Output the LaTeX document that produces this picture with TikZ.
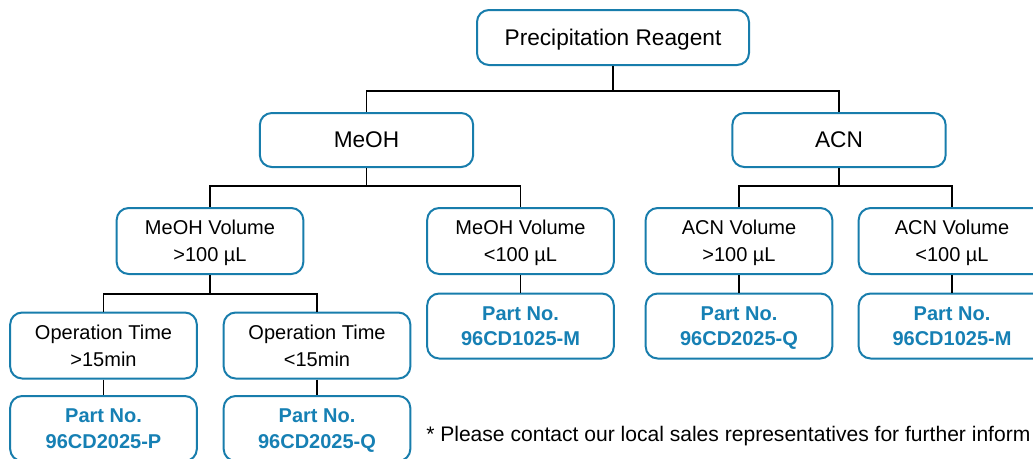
\documentclass[tikz,border=0pt]{standalone}
\usepackage{fontspec}
\setmainfont{Liberation Sans}
\usetikzlibrary{positioning}
\definecolor{boxblue}{RGB}{24,125,172}
\definecolor{partblue}{RGB}{22,128,180}

\begin{document}
\begin{tikzpicture}[x=0.75pt,y=0.75pt,node distance=63.75pt,on grid,
				box/.style={rectangle, rounded corners=9pt, draw=boxblue, line width=1.5pt, fill=white, align=center, inner sep=0pt, text depth=0pt},
				choice/.style={box, font=\fontsize{15}{20}\selectfont, minimum width=140pt, minimum height=49.5pt},
				part/.style={box, text=partblue, font=\fontsize{15}{19}\selectfont\bfseries, minimum width=140pt, minimum height=48.75pt},
				link/.style={draw=black, line width=1.1pt}
			]
			\useasboundingbox (0,0) rectangle (1033,-458);
			\clip (0,0) rectangle (1033,-458);
			
			\node[box, font=\fontsize{17}{20}\selectfont, minimum width=204pt, minimum height=41.25pt] (root) at (613,-37.5) {Precipitation Reagent};
			
			\node[box, font=\fontsize{17}{20}\selectfont, minimum width=160pt, minimum height=40.5pt] (meoh) at (366.5,-140) {MeOH};
			\node[box, font=\fontsize{17}{20}\selectfont, minimum width=160pt, minimum height=40.5pt] (acn) at (839,-140) {ACN};
			
			\node[choice] (mv_hi) at (210,-241) {MeOH Volume\\>100 µL};
			\node[choice] (mv_lo) at (520.5,-241) {MeOH Volume\\<100 µL};
			\node[choice] (av_hi) at (739,-241) {ACN Volume\\>100 µL};
			\node[choice] (av_lo) at (952,-241) {ACN Volume\\<100 µL};
			
			\node[choice] (ot_hi) at (103.5,-345.5) {Operation Time\\>15min};
			\node[choice] (ot_lo) at (317,-345.5) {Operation Time\\<15min};
			
			\node[part] (p_1) [below=of mv_lo] {Part No.\\96CD1025-M};
			\node[part] (p_2) [below=of av_hi] {Part No.\\96CD2025-Q};
			\node[part] (p_3) [below=of av_lo] {Part No.\\96CD1025-M};
			\node[part] (p_4) [below=62.25pt of ot_hi] {Part No.\\96CD2025-P};
			\node[part] (p_5) [below=62.25pt of ot_lo] {Part No.\\96CD2025-Q};
			
			\node[anchor=base west, font=\fontsize{15.8}{18}\selectfont, inner sep=0pt] (note) at (426,-441) {* Please contact our local sales representatives for further inform};
			
			\draw[link] (root.south) -- ++(0,-25) -| (meoh.north);
			\draw[link] (root.south) -- ++(0,-25) -| (acn.north);
			
			\draw[link] (meoh.south) -- ++(0,-18) -| (mv_hi.north);
			\draw[link] (meoh.south) -- ++(0,-18) -| (mv_lo.north);
			\draw[link] (acn.south) -- ++(0,-18) -| (av_hi.north);
			\draw[link] (acn.south) -- ++(0,-18) -| (av_lo.north);
			
			\draw[link] (mv_hi.south) -- ++(0,-19) -| (ot_hi.north);
			\draw[link] (mv_hi.south) -- ++(0,-19) -| (ot_lo.north);
			
			\draw[link] (mv_lo) -- (p_1);
			\draw[link] (av_hi) -- (p_2);
			\draw[link] (av_lo) -- (p_3);
			\draw[link] (ot_hi) -- (p_4);
			\draw[link] (ot_lo) -- (p_5);
		\end{tikzpicture}
\end{document}
